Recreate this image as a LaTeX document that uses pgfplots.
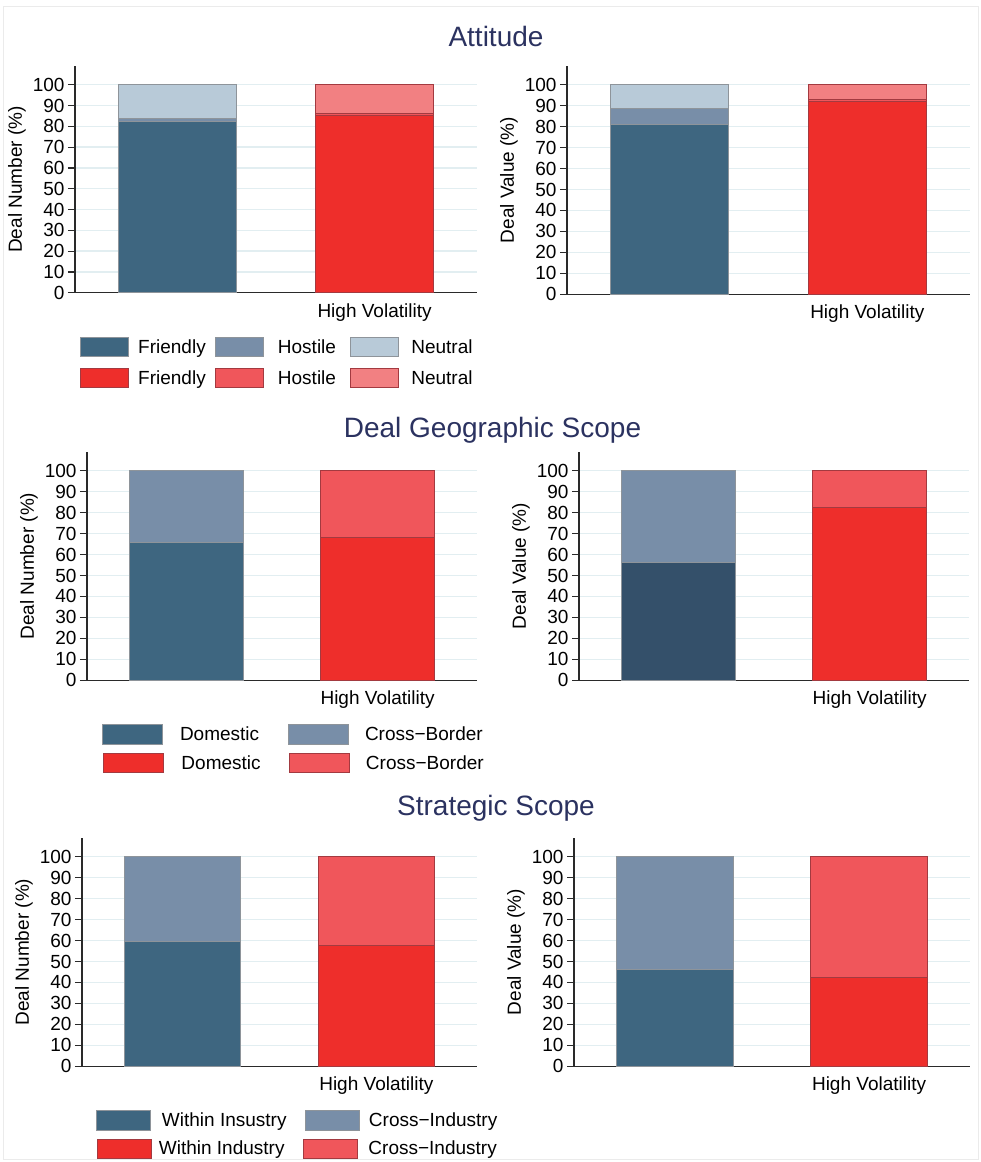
\documentclass[border=0pt]{standalone}
\usepackage{fontspec}
\setmainfont{Liberation Sans}
\usepackage{pgfplots}
\pgfplotsset{compat=1.18}

\definecolor{bF}{HTML}{3E6680}
\definecolor{bH}{HTML}{788EA8}
\definecolor{bN}{HTML}{B8CAD8}
\definecolor{bD}{HTML}{34506A}
\definecolor{bEdge}{HTML}{8E949A}
\definecolor{rF}{HTML}{EE2E2B}
\definecolor{rH}{HTML}{F0565B}
\definecolor{rN}{HTML}{F28082}
\definecolor{rEdge}{HTML}{A33A40}
\definecolor{gridc}{HTML}{E2EEF1}
\definecolor{axisc}{HTML}{2A2A2A}
\definecolor{titlec}{HTML}{2B3260}
\definecolor{framec}{HTML}{EBEBEB}

\newcommand\lab{\fontsize{19}{22}\selectfont}

\pgfplotsset{
  common/.style={
    scale only axis, anchor=south west,
    xmin=-0.52, xmax=1.52, ymin=0, ymax=109,
    ybar stacked, bar width=0.6,
    legend style={draw=none, fill=none, inner sep=0pt, outer sep=0pt,
      anchor=west, font=\lab, /tikz/column sep=0pt,
      nodes={inner sep=0pt}},
    legend cell align=left,
    legend columns=-1,
  },
  panel/.style={
    common,
    axis lines=left,
    axis line style={-, line width=1.2pt, color=axisc},
    ytick={0,10,...,100}, xtick={0,1},
    xticklabels={,High Volatility},
    x tick style={draw=none},
    y tick style={line width=1.2pt, color=axisc},
    tick align=outside, major tick length=7pt,
    ymajorgrids, grid style={line width=1.3pt, color=gridc},
    tick label style={font=\lab},
    label style={font=\lab},
    /pgf/number format/assume math mode=true,
  },
  over/.style={common, hide axis},
  blue/.style={fill=#1, draw=bEdge, line width=1pt},
  red/.style={fill=#1, draw=rEdge, line width=1pt},
  sw/.style={legend image code/.code={%
      \draw[##1, line width=1pt] (0pt,-9.7pt) rectangle (#1pt,9.7pt);}},
}

\begin{document}
\begin{tikzpicture}
\useasboundingbox (0pt,0pt) rectangle (981pt,-1162pt);
% outline of the graph region
\draw[framec, line width=1pt] (3pt,-6.5pt) rectangle (978.5pt,-1159pt);

% ---------------- Attitude ----------------
\node[font=\fontsize{28}{32}\selectfont, text=titlec] at (496pt,-36pt) {Attitude};

\begin{axis}[panel, at={(75pt,-292.7pt)}, width=402pt, height=226.7pt,
    ylabel={Deal Number (\%)}, sw=48,
    legend style={at={(axis description cs:0.0124,-0.2395)}}]
  \addplot+[blue=bF] coordinates {(0,82.2)};
  \addlegendentry{\makebox[86pt][c]{Friendly}}
  \addplot+[blue=bH] coordinates {(0,1.6)};
  \addlegendentry{\makebox[86pt][c]{Hostile}}
  \addplot+[blue=bN] coordinates {(0,16.2)};
  \addlegendentry{\makebox[86pt][c]{Neutral}}
\end{axis}
\begin{axis}[over, at={(75pt,-292.7pt)}, width=402pt, height=226.7pt, sw=48,
    legend style={at={(axis description cs:0.0124,-0.3763)}}]
  \addplot+[red=rF] coordinates {(1,85.3)};
  \addlegendentry{\makebox[86pt][c]{Friendly}}
  \addplot+[red=rH] coordinates {(1,0.9)};
  \addlegendentry{\makebox[86pt][c]{Hostile}}
  \addplot+[red=rN] coordinates {(1,13.8)};
  \addlegendentry{\makebox[86pt][c]{Neutral}}
\end{axis}

\begin{axis}[panel, at={(567pt,-294.3pt)}, width=403pt, height=228.5pt,
    ylabel={Deal Value (\%)}]
  \addplot+[blue=bF] coordinates {(0,81.1)};
  \addplot+[blue=bH] coordinates {(0,7.6)};
  \addplot+[blue=bN] coordinates {(0,11.3)};
\end{axis}
\begin{axis}[over, at={(567pt,-294.3pt)}, width=403pt, height=228.5pt]
  \addplot+[red=rF] coordinates {(1,92.1)};
  \addplot+[red=rH] coordinates {(1,0.9)};
  \addplot+[red=rN] coordinates {(1,7.0)};
\end{axis}

% ---------------- Deal Geographic Scope ----------------
\node[font=\fontsize{28}{32}\selectfont, text=titlec] at (492.5pt,-430pt) {Deal Geographic Scope};

\begin{axis}[panel, at={(87pt,-680.3pt)}, width=390pt, height=228.5pt,
    ylabel={Deal Number (\%)}, sw=60,
    legend style={at={(axis description cs:0.0385,-0.238)}}]
  \addplot+[blue=bF] coordinates {(0,65.6)};
  \addlegendentry{\makebox[125pt][l]{\hspace{17pt}Domestic}}
  \addplot+[blue=bH] coordinates {(0,34.4)};
  \addlegendentry{\hspace{16pt}Cross−Border}
\end{axis}
\begin{axis}[over, at={(87pt,-680.3pt)}, width=390pt, height=228.5pt, sw=60,
    legend style={at={(axis description cs:0.041,-0.362)}}]
  \addplot+[red=rF] coordinates {(1,68.2)};
  \addlegendentry{\makebox[125pt][l]{\hspace{17.5pt}Domestic}}
  \addplot+[red=rH] coordinates {(1,31.8)};
  \addlegendentry{\hspace{16pt}Cross−Border}
\end{axis}

\begin{axis}[panel, at={(579pt,-680.3pt)}, width=390pt, height=228.5pt,
    ylabel={Deal Value (\%)}]
  \addplot+[blue=bD] coordinates {(0,56.0)};
  \addplot+[blue=bH] coordinates {(0,44.0)};
\end{axis}
\begin{axis}[over, at={(579pt,-680.3pt)}, width=390pt, height=228.5pt]
  \addplot+[red=rF] coordinates {(1,82.5)};
  \addplot+[red=rH] coordinates {(1,17.5)};
\end{axis}

% ---------------- Strategic Scope ----------------
\node[font=\fontsize{28}{32}\selectfont, text=titlec] at (496pt,-808pt) {Strategic Scope};

\begin{axis}[panel, at={(82pt,-1066.3pt)}, width=395pt, height=228.5pt,
    ylabel={Deal Number (\%)}, sw=54,
    legend style={at={(axis description cs:0.0354,-0.238)}}]
  \addplot+[blue=bF] coordinates {(0,59.4)};
  \addlegendentry{\makebox[154pt][l]{\hspace{11pt}Within Insustry}}
  \addplot+[blue=bH] coordinates {(0,40.6)};
  \addlegendentry{\hspace{9pt}Cross−Industry}
\end{axis}
\begin{axis}[over, at={(82pt,-1066.3pt)}, width=395pt, height=228.5pt, sw=54,
    legend style={at={(axis description cs:0.0387,-0.361)}}]
  \addplot+[red=rF] coordinates {(1,57.5)};
  \addlegendentry{\makebox[150.5pt][l]{\hspace{6.6pt}Within Industry}}
  \addplot+[red=rH] coordinates {(1,42.5)};
  \addlegendentry{\hspace{10.7pt}Cross−Industry}
\end{axis}

\begin{axis}[panel, at={(574pt,-1066.3pt)}, width=396pt, height=228.5pt,
    ylabel={Deal Value (\%)}]
  \addplot+[blue=bF] coordinates {(0,46.1)};
  \addplot+[blue=bH] coordinates {(0,53.9)};
\end{axis}
\begin{axis}[over, at={(574pt,-1066.3pt)}, width=396pt, height=228.5pt]
  \addplot+[red=rF] coordinates {(1,42.6)};
  \addplot+[red=rH] coordinates {(1,57.4)};
\end{axis}
\end{tikzpicture}
\end{document}
